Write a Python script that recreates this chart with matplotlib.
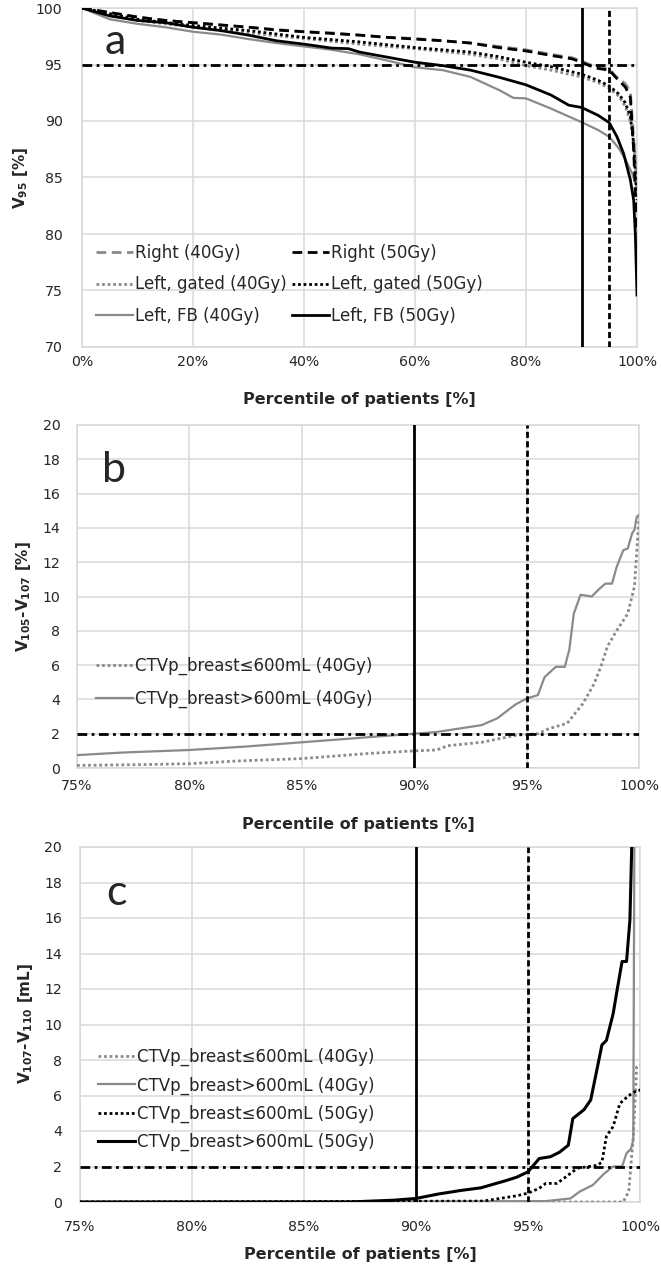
import matplotlib
matplotlib.use("Agg")
import matplotlib.pyplot as plt

plt.rcParams['font.family'] = ['DejaVu Sans']
plt.rcParams['mathtext.fontset'] = 'custom'
plt.rcParams['mathtext.rm'] = 'DejaVu Sans:bold'
plt.rcParams['mathtext.it'] = 'DejaVu Sans:bold'
plt.rcParams['mathtext.bf'] = 'DejaVu Sans:bold'
plt.rcParams['mathtext.default'] = 'rm'

# ---------------- Panel a data (percentile %, V95 %) ----------------
a_xticks = [0, 20, 40, 60, 80, 100]
a_yticks = [70, 75, 80, 85, 90, 95, 100]

right40_x = [0, 5, 10, 15, 20, 25, 30, 35, 40, 45, 50, 55, 60, 65, 70, 75, 80, 84.5, 88.3, 90, 92, 93, 95, 96.1, 97.9, 98.8, 99.4, 99.7, 100]
right40_y = [100, 99.6, 99.2, 98.9, 98.7, 98.5, 98.3, 98.1, 97.9, 97.8, 97.6, 97.4, 97.3, 97.1, 96.9, 96.6, 96.3, 95.9, 95.6, 95.3, 94.9, 94.8, 94.6, 94.0, 93.3, 92.6, 88.5, 86.0, 84.8]

right50_x = [0, 5, 10, 15, 20, 25, 30, 35, 40, 45, 50, 55, 60, 65, 70, 75, 80, 84.5, 88.3, 90, 91.9, 93, 95, 96.1, 97.9, 98.8, 99.4, 99.7, 100]
right50_y = [100, 99.6, 99.2, 98.9, 98.7, 98.5, 98.3, 98.05, 97.9, 97.75, 97.6, 97.4, 97.25, 97.1, 96.9, 96.5, 96.2, 95.8, 95.5, 95.2, 94.8, 94.65, 94.5, 93.9, 93.0, 92.1, 87.4, 83.6, 80.0]

gated40_x = [0, 10, 20, 30, 40, 50, 60, 70, 75, 80, 84.5, 90, 93, 95, 96.7, 97.9, 99.1, 99.7, 100]
gated40_y = [100, 98.9, 98.3, 97.8, 97.3, 96.8, 96.4, 95.9, 95.5, 94.9, 94.5, 93.9, 93.4, 92.9, 92.2, 91.3, 89.5, 86.5, 84.2]

gated50_x = [0, 10, 20, 30, 40, 50, 60, 70, 75, 80, 84.5, 90, 93, 95, 96.7, 97.9, 98.8, 99.4, 99.7, 100]
gated50_y = [100, 99.0, 98.45, 98.0, 97.4, 97.0, 96.5, 96.1, 95.7, 95.2, 94.8, 94.15, 93.6, 93.1, 92.4, 91.6, 90.4, 88.0, 85.4, 83.0]

fb40_x = [0, 5, 10, 15, 20, 25, 30, 35, 40, 45, 50, 55, 58, 60, 65, 70, 72, 75.3, 77.7, 80, 84.5, 87.7, 90, 93, 95, 96.7, 97.9, 99.1, 99.7, 100]
fb40_y = [100, 99.0, 98.6, 98.3, 97.9, 97.65, 97.25, 96.9, 96.6, 96.3, 95.9, 95.35, 95.0, 94.75, 94.5, 93.9, 93.45, 92.7, 92.05, 92.0, 91.1, 90.4, 89.9, 89.2, 88.6, 87.6, 86.6, 85.4, 84.6, 84.0]

fb50_x = [0, 5, 10, 15, 20, 25, 30, 35, 40, 45, 48, 50, 55, 60, 65, 70, 75.3, 80, 84.5, 87.7, 90, 93, 95, 96.4, 97.6, 98.8, 99.4, 99.7, 100]
fb50_y = [100, 99.3, 98.9, 98.7, 98.3, 98.0, 97.6, 97.1, 96.8, 96.45, 96.4, 96.1, 95.65, 95.2, 94.9, 94.5, 93.85, 93.2, 92.3, 91.4, 91.2, 90.5, 89.85, 88.6, 87.1, 84.8, 83.0, 80.0, 74.6]

# ---------------- Panel b data (percentile %, V105-V107 %) ----------------
bc_xticks = [75, 80, 85, 90, 95, 100]
bc_yticks = [0, 2, 4, 6, 8, 10, 12, 14, 16, 18, 20]

b_le600_x = [75, 78, 80, 82, 85, 88, 90, 91, 91.5, 93, 94.5, 95.5, 96, 96.8, 97.5, 98, 98.3, 98.6, 99, 99.5, 99.8, 100]
b_le600_y = [0.15, 0.2, 0.25, 0.4, 0.55, 0.85, 1.0, 1.05, 1.3, 1.5, 1.9, 2.0, 2.3, 2.6, 3.75, 4.9, 5.9, 7.1, 8.0, 9.0, 10.6, 14.6]

b_gt600_x = [75, 77, 80, 82.5, 85, 87, 89, 90, 91, 92, 93, 93.7, 94.5, 95, 95.5, 95.8, 96.3, 96.7, 96.9, 97.1, 97.4, 97.9, 98.2, 98.5, 98.8, 99, 99.3, 99.5, 99.7, 99.8, 99.9, 100]
b_gt600_y = [0.75, 0.9, 1.05, 1.25, 1.5, 1.7, 1.9, 2.0, 2.1, 2.3, 2.5, 2.9, 3.7, 4.05, 4.25, 5.3, 5.9, 5.9, 6.9, 9.0, 10.1, 10.0, 10.4, 10.75, 10.75, 11.7, 12.7, 12.8, 13.7, 13.9, 14.65, 14.75]

# ---------------- Panel c data (percentile %, V107-V110 mL) ----------------
c_le600_40_x = [75, 99.25, 99.5, 99.7, 99.85, 100]
c_le600_40_y = [0, 0, 0.6, 3.7, 7.6, 7.7]

c_gt600_40_x = [75, 95.8, 96.9, 97.3, 97.9, 98.4, 98.8, 99.2, 99.4, 99.6, 99.7, 99.75]
c_gt600_40_y = [0, 0.05, 0.2, 0.58, 0.96, 1.6, 2.0, 2.0, 2.75, 3.0, 3.5, 21]

c_le600_50_x = [75, 93, 93.5, 94.5, 95, 95.5, 95.8, 96.3, 96.6, 97.2, 98.1, 98.3, 98.5, 98.8, 99.1, 99.5, 99.9, 100]
c_le600_50_y = [0, 0.05, 0.15, 0.35, 0.5, 0.77, 1.05, 1.05, 1.33, 1.9, 2.07, 2.25, 3.7, 4.25, 5.55, 6.0, 6.3, 6.3]

c_gt600_50_x = [75, 87, 89, 90, 91, 92, 92.9, 94, 94.5, 95, 95.5, 96.0, 96.4, 96.8, 97.0, 97.5, 97.8, 98.1, 98.3, 98.5, 98.8, 99.0, 99.2, 99.4, 99.55, 99.65]
c_gt600_50_y = [0, 0, 0.1, 0.2, 0.45, 0.65, 0.8, 1.2, 1.4, 1.7, 2.45, 2.55, 2.8, 3.2, 4.7, 5.2, 5.75, 7.6, 8.85, 9.1, 10.6, 12.1, 13.55, 13.55, 15.9, 21]

# reference lines
a_hline, bc_hline = 95, 2
vline_solid, vline_dashed = 90, 95

# ---------------- styling ----------------
W, H = 661, 1266
GRAY = '#8a8a8a'
GRID = '#d9d9d9'
TXT = '#262626'
DASH = (0, (3.5, 2.0))
DOT = (0, (1, 1))
VDASH = (0, (2.2, 1.2))
DASHDOT = (0, (3.5, 1.6, 1, 1.6))

fig = plt.figure(figsize=(W / 100, H / 100), dpi=100)


def px_axes(l, r, top, bottom):
    return fig.add_axes([l / W, 1 - bottom / H, (r - l) / W, (bottom - top) / H])


def style(ax, xticks, yticks, xlim, ylim, ypad, xpad):
    ax.set_xlim(*xlim)
    ax.set_ylim(*ylim)
    ax.set_xticks(xticks)
    ax.set_yticks(yticks)
    ax.set_xticklabels([f"{t}%" for t in xticks])
    ax.grid(True, color=GRID, lw=1.1, zorder=0)
    ax.set_axisbelow(True)
    for s in ax.spines.values():
        s.set_color(GRID)
        s.set_linewidth(1.1)
    ax.tick_params(axis='both', length=0, labelsize=10.2, colors=TXT)
    ax.tick_params(axis='y', pad=ypad)
    ax.tick_params(axis='x', pad=xpad)


def ref_lines(ax, hval):
    ax.axhline(hval, color='black', lw=2, linestyle=DASHDOT, zorder=4)
    ax.axvline(vline_solid, color='black', lw=2, zorder=4)
    ax.axvline(vline_dashed, color='black', lw=2, linestyle=VDASH, zorder=4)


lab_kw = dict(fontsize=11.5, fontweight='bold', color=TXT)
ylab_kw = dict(fontsize=11, fontweight='bold', color=TXT)
leg_kw = dict(frameon=False, fontsize=12, handlelength=2.2, handletextpad=0.12,
              borderpad=0, borderaxespad=0, bbox_transform=fig.transFigure, loc='upper left')
letter_kw = dict(fontsize=31, ha='center', va='center', color=TXT, family='Lato')

# ---------------- Panel a ----------------
ax = px_axes(82, 637, 8, 347)
style(ax, a_xticks, a_yticks, (0, 100), (70, 100), 14, 6)
ref_lines(ax, a_hline)
ax.plot(right40_x, right40_y, color=GRAY, lw=2, linestyle=DASH, label='Right (40Gy)', zorder=3)
ax.plot(gated40_x, gated40_y, color=GRAY, lw=2, linestyle=DOT, label='Left, gated (40Gy)', zorder=3)
ax.plot(fb40_x, fb40_y, color=GRAY, lw=1.6, label='Left, FB (40Gy)', zorder=3)
ax.plot(right50_x, right50_y, color='black', lw=2, linestyle=DASH, label='Right (50Gy)', zorder=3)
ax.plot(gated50_x, gated50_y, color='black', lw=2, linestyle=DOT, label='Left, gated (50Gy)', zorder=3)
ax.plot(fb50_x, fb50_y, color='black', lw=2, label='Left, FB (50Gy)', zorder=3)
leg = ax.legend(bbox_to_anchor=(96 / W, 1 - 244 / H), ncol=2, columnspacing=0.35,
                labelspacing=0.8, **leg_kw)
for t in leg.get_texts():
    t.set_color(TXT)
ax.set_xlabel('Percentile of patients [%]', va='center', **lab_kw)
ax.xaxis.set_label_coords(0.5, -0.156)
ax.set_ylabel('V$_{95}$ [%]', va='center', **ylab_kw)
ax.yaxis.set_label_coords(-0.11, 0.5)
ax.text(0.06, 0.90, 'a', transform=ax.transAxes, **letter_kw)

# ---------------- Panel b ----------------
ax = px_axes(77, 639, 425, 768)
style(ax, bc_xticks, bc_yticks, (75, 100), (0, 20), 12, 8)
ref_lines(ax, bc_hline)
ax.plot(b_le600_x, b_le600_y, color=GRAY, lw=2, linestyle=DOT, label='CTVp_breast≤600mL (40Gy)', zorder=3)
ax.plot(b_gt600_x, b_gt600_y, color=GRAY, lw=1.6, label='CTVp_breast>600mL (40Gy)', zorder=3)
leg = ax.legend(bbox_to_anchor=(96 / W, 1 - 657 / H), labelspacing=0.88, **leg_kw)
for t in leg.get_texts():
    t.set_color(TXT)
ax.set_xlabel('Percentile of patients [%]', va='center', **lab_kw)
ax.xaxis.set_label_coords(0.5, -0.166)
ax.set_ylabel('V$_{105}$-V$_{107}$ [%]', va='center', **ylab_kw)
ax.yaxis.set_label_coords(-0.096, 0.5)
ax.text(0.066, 0.869, 'b', transform=ax.transAxes, **letter_kw)

# ---------------- Panel c ----------------
ax = px_axes(80, 640, 847, 1202)
style(ax, bc_xticks, bc_yticks, (75, 100), (0, 20), 13, 13)
ref_lines(ax, bc_hline)
ax.plot(c_le600_40_x, c_le600_40_y, color=GRAY, lw=2, linestyle=DOT, label='CTVp_breast≤600mL (40Gy)', zorder=3)
ax.plot(c_gt600_40_x, c_gt600_40_y, color=GRAY, lw=1.6, label='CTVp_breast>600mL (40Gy)', zorder=3)
ax.plot(c_le600_50_x, c_le600_50_y, color='black', lw=2, linestyle=DOT, label='CTVp_breast≤600mL (50Gy)', zorder=3)
ax.plot(c_gt600_50_x, c_gt600_50_y, color='black', lw=2.2, label='CTVp_breast>600mL (50Gy)', zorder=3)
leg = ax.legend(bbox_to_anchor=(98 / W, 1 - 1048 / H), labelspacing=0.6, **leg_kw)
for t in leg.get_texts():
    t.set_color(TXT)
ax.set_xlabel('Percentile of patients [%]', va='center', **lab_kw)
ax.xaxis.set_label_coords(0.5, -0.149)
ax.set_ylabel('V$_{107}$-V$_{110}$ [mL]', va='center', **ylab_kw)
ax.yaxis.set_label_coords(-0.098, 0.504)
ax.text(0.066, 0.87, 'c', transform=ax.transAxes, **letter_kw)

fig.savefig('out.png', dpi=100)
